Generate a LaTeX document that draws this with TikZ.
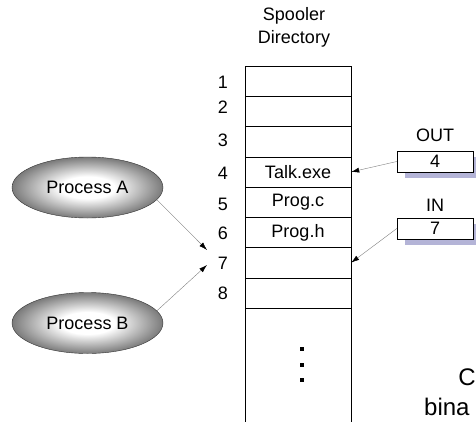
\documentclass[tikz,border=0pt]{standalone}
\usepackage{fontspec}
\setmainfont{Liberation Sans}
\usetikzlibrary{arrows.meta,positioning,shapes.geometric}
\pgfdeclareradialshading{procglow}{\pgfpoint{0bp}{0bp}}{color(0bp)=(white);
  color(9bp)=(white); color(25bp)=(black!52); color(50bp)=(black!52)}

\begin{document}
\begin{tikzpicture}[x=1pt,y=-1pt,
every node/.style={font=\fontsize{18}{23}\selectfont},
slot/.style={draw,rectangle,minimum width=106pt,minimum height=30.3pt,inner sep=0pt},
proc/.style={draw=black!80,ellipse,minimum width=151pt,minimum height=61pt,
  shading=procglow,inner sep=0pt},
ptr/.style={draw,rectangle,fill=white,minimum width=76pt,minimum height=21pt,inner sep=0pt},
shade/.style={rectangle,fill=blue!30!gray!45,minimum width=76pt,minimum height=21pt,inner sep=0pt},
flow/.style={draw=gray,line width=.4pt,-{Latex[black,length=8pt,width=5pt]}},
dot/.style={fill=black,rectangle,minimum size=4.5pt,inner sep=0pt}]
\useasboundingbox (0,0) rectangle (476,421);
\node[align=center] (title) at (294,27) {Spooler\\Directory};
% directory slots
\node[slot] (s1) at (298,81.1) {};
\node[slot] (s2) at (298,111.4) {};
\node[slot] (s3) at (298,141.6) {};
\node[slot] (s4) at (298,171.9) {Talk.exe};
\node[slot] (s5) at (298,202.1) {Prog.c};
\node[slot] (s6) at (298,232.4) {Prog.h};
\node[slot] (s7) at (298,262.6) {};
\node[slot] (s8) at (298,292.9) {};
\draw (s8.south west) -- (s8.south west |- 0,430);
\draw (s8.south east) -- (s8.south east |- 0,430);
\node[dot] (d1) at (302,349) {};
\node[dot] (d2) at (302,365) {};
\node[dot] (d3) at (302,380) {};
% slot numbers
\node (n1) at (223,82) {1};
\node (n2) at (223,107) {2};
\node (n3) at (223,140) {3};
\node (n4) at (223,173) {4};
\node (n5) at (223,204) {5};
\node (n6) at (223,233) {6};
\node (n7) at (223,263) {7};
\node (n8) at (223,293) {8};
% out / in
\node (outlbl) at (435,135) {OUT};
\node[shade] (outsh) at (443,167) {};
\node[ptr] (out) at (435,161.5) {4};
\node (inlbl) at (435,205) {IN};
\node[shade] (insh) at (443,234) {};
\node[ptr] (in) at (435,228.5) {7};
\draw[flow] (out.west) -- (s4.east);
\draw[flow] (in.west) -- (s7.east);
% processes
\node[proc] (procA) at (87.5,187.5) {Process A};
\node[proc] (procB) at (87.5,323) {Process B};
\coordinate (inA) at (207,250);
\coordinate (inB) at (207,265);
\draw[flow] (procA.-10) -- (inA);
\draw[flow] (procB.10) -- (inB);
% cut-off text
\node[anchor=east,inner sep=0pt,font=\fontsize{24}{30}\selectfont] (c) at (476,377) {C};
\node[anchor=west,inner sep=0pt,font=\fontsize{24}{30}\selectfont] (bina) at (424,407) {bina};
\end{tikzpicture}
\end{document}
